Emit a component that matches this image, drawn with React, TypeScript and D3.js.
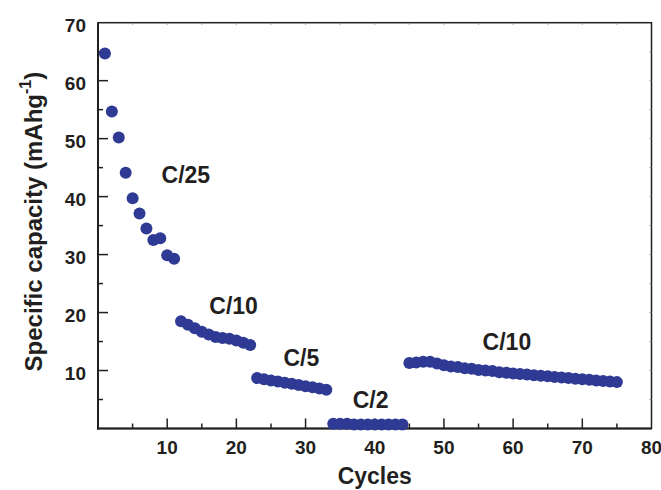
import React from 'react';
import * as d3 from 'd3';

// capacity (mAh/g) per cycle, grouped by C-rate step
const c25 = [64.7, 54.7, 50.2, 44.1, 39.7, 37.1, 34.5, 32.5, 32.8, 29.9, 29.3]; // cycles 1-11
const c10a = [18.5, 17.9, 17.3, 16.7, 16.2, 15.8, 15.6, 15.5, 15.2, 14.8, 14.4]; // cycles 12-22
const c5 = [8.7, 8.5, 8.3, 8.1, 7.9, 7.7, 7.5, 7.3, 7.1, 6.9, 6.7]; // cycles 23-33
const c2 = [0.8, 0.8, 0.8, 0.7, 0.7, 0.7, 0.7, 0.7, 0.7, 0.7, 0.7]; // cycles 34-44
const c10b = [
  11.3, 11.4, 11.5, 11.5, 11.2, 10.9, 10.7, 10.6, 10.4, 10.3, 10.1, 10.0, 9.9, 9.7, 9.6, 9.5,
  9.4, 9.3, 9.2, 9.1, 9.0, 8.9, 8.8, 8.7, 8.6, 8.5, 8.4, 8.3, 8.2, 8.1, 8.0,
]; // cycles 45-75

const segments = [
  { start: 1, values: c25 },
  { start: 12, values: c10a },
  { start: 23, values: c5 },
  { start: 34, values: c2 },
  { start: 45, values: c10b },
];

const rateLabels = ['C/25', 'C/10', 'C/5', 'C/2', 'C/10'];
const labelCycle = [12.7, 19.6, 29.4, 39.4, 59.1];
const labelCapacity = [42.3, 19.7, 10.8, 3.5, 13.5];

const xTicks = [10, 20, 30, 40, 50, 60, 70, 80];
const yTicks = [10, 20, 30, 40, 50, 60, 70];

const W = 661;
const H = 490;
const left = 98;
const right = 651.5;
const top = 22.7;
const bottom = 428.5;
const ink = '#231f20';
const dotColor = '#2e3a94';
const font = '"Liberation Sans", Arial, sans-serif';

export default function App() {
  const x = d3.scaleLinear().domain([0, 80]).range([left, right]);
  const y = d3.scaleLinear().domain([0, 70]).range([bottom, top]);

  const points = segments.flatMap(s => s.values.map((v, i) => ({ cycle: s.start + i, cap: v })));
  const minorX = d3.range(5, 80, 5);
  const minorY = d3.range(5, 70, 5);

  return (
    <svg width={W} height={H} style={{ position: 'absolute', left: 0, top: 0, background: '#fff' }}>
      {/* frame */}
      <rect x={left} y={top} width={right - left} height={bottom - top} fill="none" stroke={ink} strokeWidth={1.5} />
      <line x1={left} x2={left} y1={top} y2={bottom + 1} stroke={ink} strokeWidth={2} />
      <line x1={left - 1} x2={right} y1={bottom} y2={bottom} stroke={ink} strokeWidth={2} />

      {/* bottom ticks, inward */}
      {minorX.map(t => (
        <line key={'bx' + t} x1={x(t)} x2={x(t)} y1={bottom} y2={bottom - (t % 10 === 0 ? 10 : 5)} stroke={ink} strokeWidth={1.5} />
      ))}
      {/* top ticks, tiny */}
      {minorX.map(t => (
        <line key={'tx' + t} x1={x(t)} x2={x(t)} y1={top} y2={top + 2} stroke="#888" strokeWidth={1} />
      ))}
      {/* left ticks */}
      {minorY.map(t => (
        <line key={'ly' + t} x1={left} x2={left + (t % 10 === 0 ? 10 : 5)} y1={y(t)} y2={y(t)} stroke={ink} strokeWidth={1.5} />
      ))}
      {/* right ticks, tiny */}
      {minorY.map(t => (
        <line key={'ry' + t} x1={right} x2={right - 2} y1={y(t)} y2={y(t)} stroke="#888" strokeWidth={1} />
      ))}

      {/* tick labels */}
      {xTicks.map(t => (
        <text key={'xl' + t} x={x(t)} y={454} textAnchor="middle" fontFamily={font} fontWeight="bold" fontSize={19} fill={ink}>
          {t}
        </text>
      ))}
      {yTicks.map(t => (
        <text key={'yl' + t} x={86} y={y(t) + 9.5} textAnchor="end" fontFamily={font} fontWeight="bold" fontSize={19} fill={ink}>
          {t}
        </text>
      ))}

      {/* axis titles */}
      <text x={(left + right) / 2} y={484} textAnchor="middle" fontFamily={font} fontWeight="bold" fontSize={23} fill={ink}>
        Cycles
      </text>
      <text
        transform={`translate(41.5,${(top + bottom) / 2 - 4}) rotate(-90)`}
        textAnchor="middle"
        fontFamily={font}
        fontWeight="bold"
        fontSize={24}
        fill={ink}
      >
        Specific capacity (mAhg
        <tspan fontSize={16} dy={-11}>-1</tspan>
        <tspan dy={11}>)</tspan>
      </text>

      {/* data */}
      {points.map(p => (
        <circle key={p.cycle} cx={x(p.cycle)} cy={y(p.cap)} r={6} fill={dotColor} />
      ))}

      {/* rate annotations */}
      {rateLabels.map((l, i) => (
        <text key={l + i} x={x(labelCycle[i])} y={y(labelCapacity[i])} textAnchor="middle" fontFamily={font} fontWeight="bold" fontSize={23} fill={ink}>
          {l}
        </text>
      ))}
    </svg>
  );
}
